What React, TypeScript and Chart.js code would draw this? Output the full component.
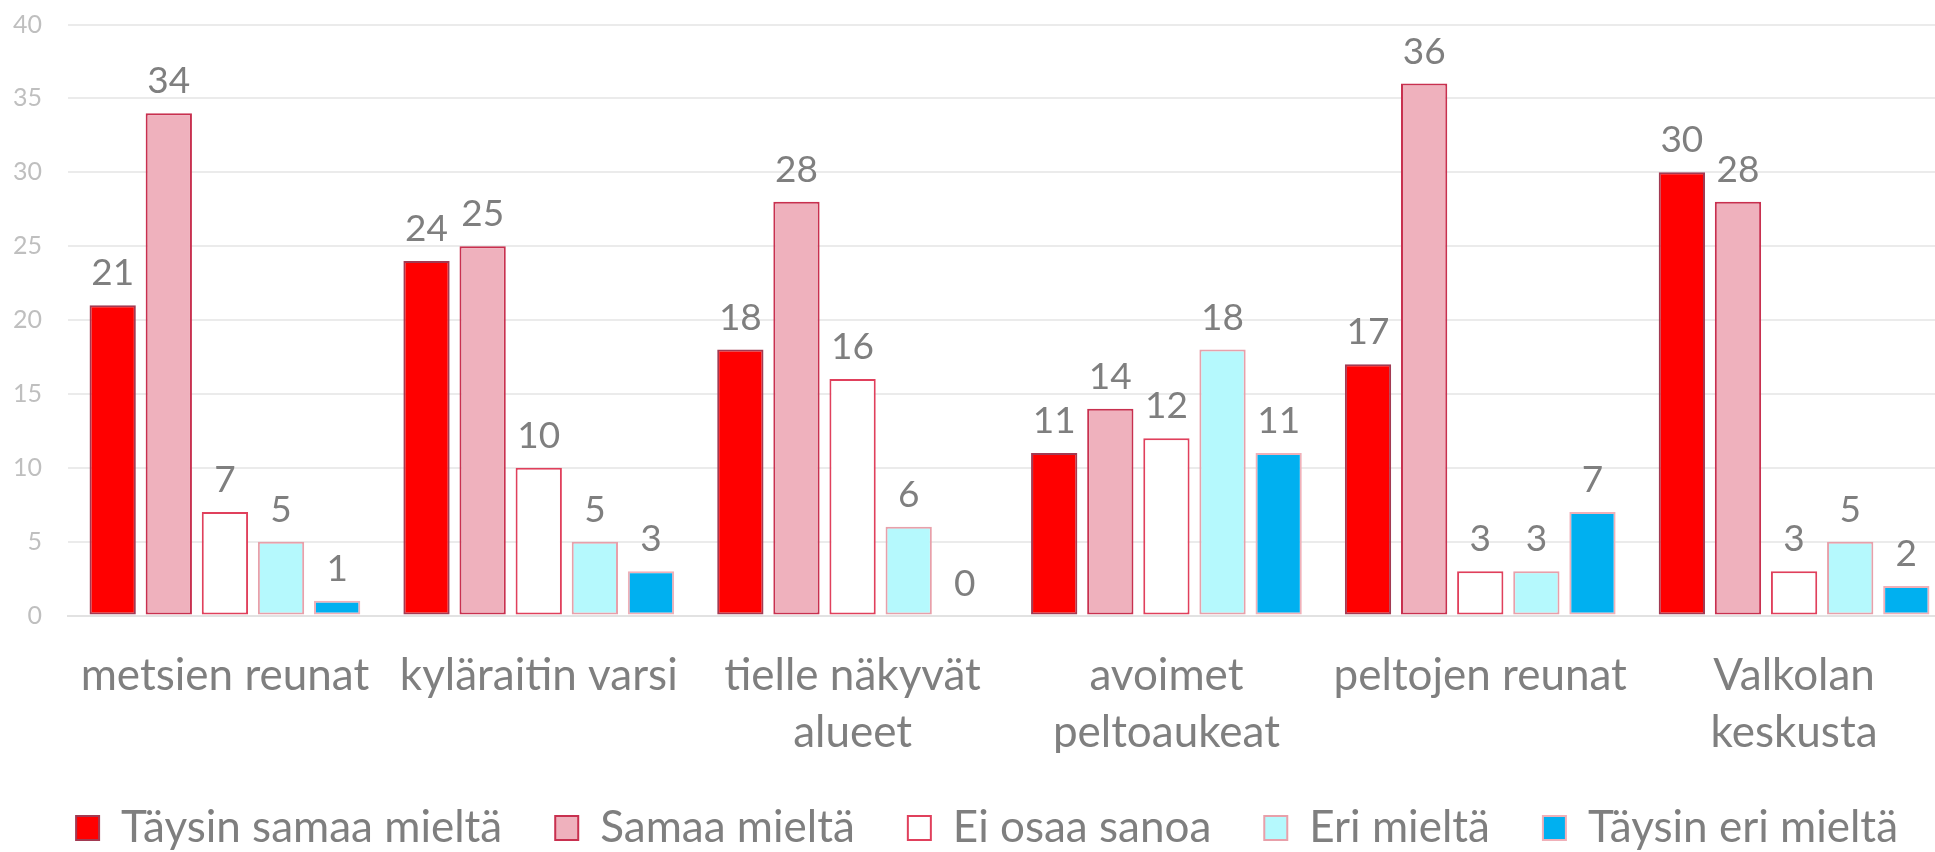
import React, { useEffect, useRef } from "react";
import { Chart, registerables } from "chart.js";

Chart.register(...registerables);

const categories: (string | string[])[] = [
  "metsien reunat",
  "kyläraitin varsi",
  ["tielle näkyvät", "alueet"],
  ["avoimet", "peltoaukeat"],
  "peltojen reunat",
  ["Valkolan", "keskusta"],
];

const seriesNames = [
  "Täysin samaa mieltä",
  "Samaa mieltä",
  "Ei osaa sanoa",
  "Eri mieltä",
  "Täysin eri mieltä",
];

const taysinSamaa = [21, 24, 18, 11, 17, 30];
const samaa = [34, 25, 28, 14, 36, 28];
const eiOsaa = [7, 10, 16, 12, 3, 3];
const eri = [5, 5, 6, 18, 3, 5];
const taysinEri = [1, 3, 0, 11, 7, 2];

const yMin = 0;
const yMax = 40;
const yStep = 5;

const fills = ["#ff0000", "#efb1bd", "#ffffff", "#b5f9fd", "#00b0f0"];
const borders = ["#a23a52", "#c8304f", "#e0405c", "#e8a0aa", "#f0b0b8"];

const FONT = "Lato, 'Open Sans', sans-serif";
const TEXT_GRAY = "#7f7f7f";

const valueLabels = {
  id: "valueLabels",
  afterDatasetsDraw(chart: any) {
    const ctx = chart.ctx;
    ctx.save();
    ctx.font = `37px ${FONT}`;
    ctx.fillStyle = TEXT_GRAY;
    ctx.textAlign = "center";
    ctx.textBaseline = "alphabetic";
    chart.data.datasets.forEach((ds: any, i: number) => {
      const meta = chart.getDatasetMeta(i);
      meta.data.forEach((bar: any, j: number) => {
        ctx.fillText(String(ds.data[j]), bar.x, bar.y - 20);
      });
    });
    ctx.restore();
  },
};

export default function App() {
  const canvasRef = useRef<HTMLCanvasElement | null>(null);

  useEffect(() => {
    let chart: Chart | null = null;
    let cancelled = false;
    const build = () => {
      if (cancelled || !canvasRef.current) return;
      const seriesData = [taysinSamaa, samaa, eiOsaa, eri, taysinEri];
      chart = new Chart(canvasRef.current, {
        type: "bar",
        data: {
          labels: categories as any,
          datasets: seriesNames.map((name, i) => ({
            label: name,
            data: seriesData[i],
            backgroundColor: fills[i],
            borderColor: borders[i],
            borderWidth: 2,
            borderSkipped: false,
            categoryPercentage: 0.894,
            barPercentage: 0.825,
          })),
        },
        options: {
          animation: false,
          responsive: false,
          devicePixelRatio: 1,
          layout: { padding: { top: 24.5, left: 8, right: 9, bottom: 0 } },
          plugins: {
            legend: {
              position: "bottom",
              align: "end",
              labels: {
                font: { family: FONT, size: 44 },
                color: TEXT_GRAY,
                boxWidth: 23,
                boxHeight: 24,
                padding: 53,
              },
            },
            tooltip: { enabled: false },
          },
          scales: {
            x: {
              grid: { display: false, drawTicks: false },
              border: { display: true, color: "#e2e2e2", width: 2 },
              ticks: {
                font: { family: FONT, size: 44, lineHeight: 1.295 },
                color: TEXT_GRAY,
                padding: 32,
                autoSkip: false,
                maxRotation: 0,
                minRotation: 0,
              },
              afterFit: (s: any) => {
                s.height = 137.5;
              },
            },
            y: {
              min: yMin,
              max: yMax,
              grid: { color: "#ebebeb", lineWidth: 2, drawTicks: false },
              border: { display: false },
              ticks: {
                stepSize: yStep,
                font: { family: FONT, size: 25 },
                color: "#bfbfbf",
                padding: 26,
              },
              afterFit: (s: any) => {
                s.width = 60;
                s.paddingTop = 0;
                s.paddingBottom = 0;
              },
            },
          },
        },
        plugins: [valueLabels],
      });
    };
    const fontsApi = (document as any).fonts;
    if (fontsApi && fontsApi.load) {
      Promise.all([
        fontsApi.load(`44px Lato`),
        fontsApi.load(`25px Lato`),
      ])
        .catch(() => {})
        .then(build);
    } else {
      build();
    }
    return () => {
      cancelled = true;
      if (chart) chart.destroy();
    };
  }, []);

  return (
    <div
      style={{
        position: "fixed",
        left: 0,
        top: 0,
        width: 1935,
        height: 852,
        overflow: "hidden",
        background: "#ffffff",
      }}
    >
      <canvas
        ref={canvasRef}
        width={1960}
        height={860}
        style={{ display: "block", width: 1960, height: 860 }}
      />
    </div>
  );
}
